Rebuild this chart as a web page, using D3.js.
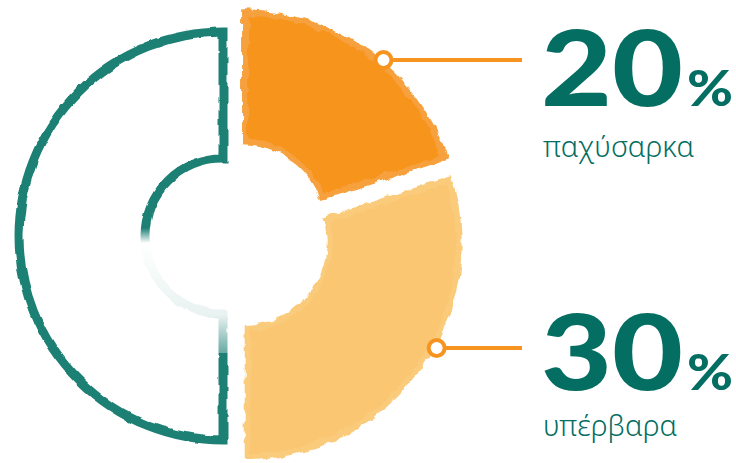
<html>
  <head>
    <style>
      body { margin: 0; background: #fff; }
      .num { font-family: Lato, "Open Sans", sans-serif; font-weight: 900; fill: #046e62; }
      .name { font-family: "Noto Sans", sans-serif; font-weight: 300; fill: #046e62; }
    </style>
    <script src="https://cdnjs.cloudflare.com/ajax/libs/d3/7.8.5/d3.min.js" type="text/javascript"></script>
  </head>
  <body>
    <script>
      // data
      var categories = ["παχύσαρκα", "υπέρβαρα", "υπόλοιποι"];
      var values = [20, 30, 50];
      var percentLabels = ["20", "30"];

      // layout
      var width = 736, height = 463;
      var cx = 235, cy = 236;
      var outerR = 217, innerR = 82, explode = 12;
      var fills = ["#f7941f", "#fac671"];
      var rims = ["#f6a13e", "#fbcb7c"];
      var teal = "#1f8075";
      var rows = [{line: 60, num: 106, name: 157}, {line: 348, num: 390, name: 436}];

      var svg = d3.select("body").append("svg")
        .attr("width", width)
        .attr("height", height);

      var defs = svg.append("defs");
      function roughFilter(id, seed, scale, freq) {
        var f = defs.append("filter").attr("id", id)
          .attr("filterUnits", "userSpaceOnUse")
          .attr("x", 0).attr("y", 0).attr("width", width).attr("height", height);
        f.append("feTurbulence").attr("type", "fractalNoise")
          .attr("baseFrequency", freq).attr("numOctaves", 2).attr("seed", seed).attr("result", "n");
        f.append("feDisplacementMap").attr("in", "SourceGraphic").attr("in2", "n")
          .attr("scale", scale).attr("xChannelSelector", "R").attr("yChannelSelector", "G");
      }
      roughFilter("rough", 3, 7, 0.09);
      roughFilter("rough2", 8, 4, 0.06);

      // fade the lower inner part of the teal outline
      var grad = defs.append("linearGradient").attr("id", "fade")
        .attr("x1", 0).attr("y1", 0).attr("x2", 0).attr("y2", 1);
      grad.append("stop").attr("offset", "0").attr("stop-color", "#fff");
      grad.append("stop").attr("offset", "0.12").attr("stop-color", "#000");
      grad.append("stop").attr("offset", "0.7").attr("stop-color", "#1a1a1a");
      grad.append("stop").attr("offset", "1").attr("stop-color", "#aaa");
      var mask = defs.append("mask").attr("id", "tealMask").attr("maskUnits", "userSpaceOnUse")
        .attr("x", 0).attr("y", 0).attr("width", width).attr("height", height);
      mask.append("rect").attr("width", width).attr("height", height).attr("fill", "#fff");
      mask.append("rect").attr("x", 125).attr("y", 228).attr("width", 110).attr("height", 125)
        .attr("fill", "url(#fade)");

      var pie = d3.pie().sort(null).value(function(d) { return d; });
      var arcs = pie(values);

      var arc = d3.arc().innerRadius(innerR).outerRadius(outerR);
      var arcInner = d3.arc().innerRadius(innerR + 6).outerRadius(outerR - 6)
        .padAngle(0.06).padRadius(200);
      var arcTeal = d3.arc().innerRadius(innerR - 4).outerRadius(outerR - 13);

      function offset(d, k) {
        var a = (d.startAngle + d.endAngle) / 2;
        return [cx + k * Math.sin(a), cy - k * Math.cos(a)];
      }

      // outlined remainder
      var t = arcs[2], to = offset(t, explode);
      svg.append("g")
        .attr("mask", "url(#tealMask)")
        .append("g")
        .attr("filter", "url(#rough2)")
        .append("path")
        .attr("transform", "translate(" + to[0] + "," + to[1] + ")")
        .attr("d", arcTeal(t))
        .attr("fill", "none")
        .attr("stroke", teal)
        .attr("stroke-width", 9)
        .attr("stroke-linejoin", "miter");

      // filled slices
      arcs.slice(0, 2).forEach(function(d, i) {
        var o = offset(d, explode);
        var sg = svg.append("g").attr("filter", "url(#rough)")
          .append("g")
          .attr("transform", "translate(" + o[0] + "," + o[1] + ")");
        sg.append("path").attr("d", arc(d)).attr("fill", rims[i]);
        sg.append("path").attr("d", arcInner(d)).attr("fill", fills[i]);
      });

      // callouts and labels
      arcs.slice(0, 2).forEach(function(d, i) {
        var o = offset(d, explode);
        var r = rows[i];
        var dy = r.line - o[1];
        var px = o[0] + Math.sqrt(outerR * outerR - dy * dy);
        svg.append("line")
          .attr("x1", px).attr("x2", 522)
          .attr("y1", r.line).attr("y2", r.line)
          .attr("stroke", "#f7941f").attr("stroke-width", 4);
        svg.append("circle")
          .attr("cx", px + 2).attr("cy", r.line).attr("r", 8)
          .attr("fill", "#fff").attr("stroke", "#f7941f").attr("stroke-width", 4);

        svg.append("text").attr("class", "num")
          .attr("x", 541).attr("y", r.num)
          .attr("font-size", 104)
          .attr("textLength", 142)
          .attr("lengthAdjust", "spacingAndGlyphs")
          .text(percentLabels[i]);
        svg.append("text").attr("class", "num")
          .attr("x", 687).attr("y", r.num)
          .attr("font-size", 50)
          .attr("textLength", 46)
          .attr("lengthAdjust", "spacingAndGlyphs")
          .text("%");

        svg.append("text").attr("class", "name")
          .attr("x", 543).attr("y", r.name)
          .attr("font-size", 29)
          .text(categories[i]);
      });
    </script>
  </body>
</html>
